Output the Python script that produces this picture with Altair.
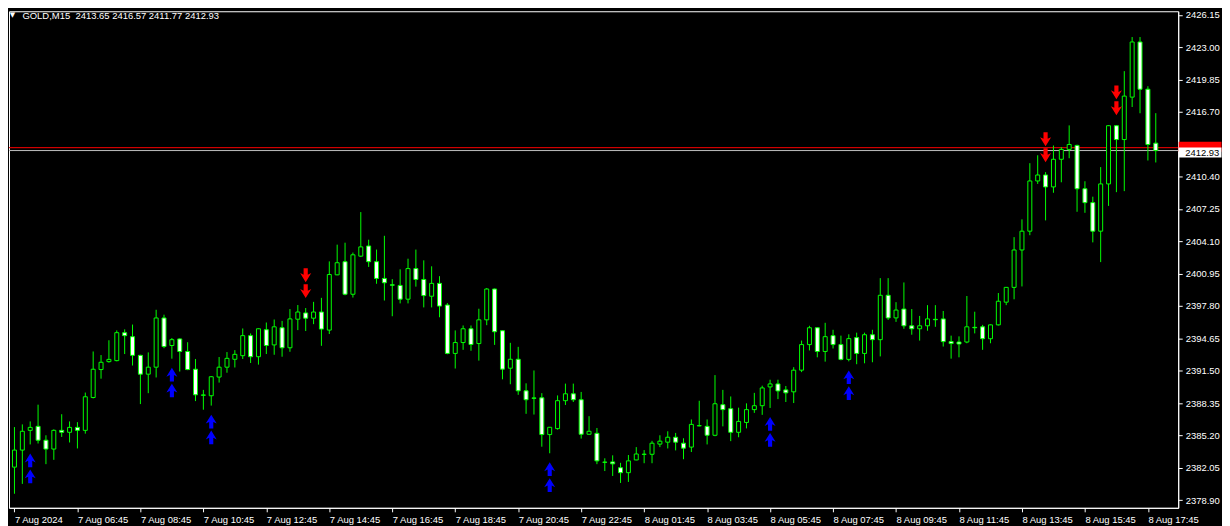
import json
import altair as alt
import pandas as pd

# ---------------- data (GOLD, M15) ----------------
opens = [2382.11, 2383.77, 2385.69, 2386.08, 2384.73, 2383.87, 2385.69, 2385.50, 2385.98, 2385.69,
         2388.89, 2391.61, 2392.38, 2392.48, 2395.20, 2394.81, 2392.99, 2391.16, 2391.84, 2396.63,
         2393.95, 2394.59, 2393.37, 2391.64, 2389.10, 2389.06, 2390.88, 2391.84, 2392.61, 2392.96,
         2394.91, 2392.86, 2395.49, 2394.01, 2395.68, 2393.73, 2396.51, 2397.12, 2396.61, 2397.21,
         2395.45, 2400.83, 2402.11, 2398.94, 2402.65, 2403.64, 2402.11, 2400.48, 2399.86, 2399.80,
         2398.46, 2401.44, 2400.38, 2398.75, 2400.00, 2397.89, 2393.18, 2394.24, 2395.58, 2394.14,
         2396.45, 2399.45, 2395.39, 2391.74, 2392.61, 2389.54, 2388.85, 2388.86, 2385.28, 2385.86,
         2388.58, 2389.25, 2388.67, 2385.31, 2385.40, 2382.60, 2382.62, 2382.05, 2381.57, 2382.81,
         2383.35, 2383.36, 2384.35, 2384.54, 2385.02, 2384.44, 2384.06, 2386.13, 2386.08, 2385.21,
         2388.19, 2387.80, 2385.50, 2386.46, 2387.71, 2388.09, 2389.92, 2390.21, 2389.63, 2389.44,
         2391.55, 2394.04, 2395.68, 2393.37, 2394.91, 2394.04, 2392.60, 2394.72, 2393.18, 2395.00,
         2394.52, 2398.84, 2396.64, 2397.50, 2395.87, 2395.58, 2395.87, 2396.50, 2396.54, 2394.33,
         2394.29, 2394.29, 2395.72, 2395.77, 2394.61, 2395.96, 2398.17, 2399.61, 2403.25, 2405.08,
         2409.97, 2410.55, 2409.39, 2412.08, 2413.04, 2413.43, 2409.21, 2407.86, 2405.08, 2409.68,
         2415.35, 2414.00, 2418.13, 2423.50, 2418.90, 2413.65]
highs = [2386.01, 2386.27, 2386.56, 2388.19, 2385.21, 2385.79, 2387.26, 2386.56, 2386.49, 2389.37,
         2393.37, 2393.02, 2394.46, 2395.42, 2395.52, 2395.99, 2393.05, 2393.28, 2397.43, 2396.95,
         2394.68, 2394.65, 2394.27, 2392.64, 2389.63, 2390.97, 2392.83, 2393.31, 2393.50, 2395.61,
         2395.13, 2395.62, 2396.19, 2396.48, 2396.35, 2397.50, 2397.89, 2397.60, 2398.20, 2398.59,
         2402.14, 2403.77, 2403.96, 2403.00, 2406.94, 2404.25, 2403.29, 2404.63, 2400.41, 2401.37,
         2402.40, 2403.29, 2402.24, 2401.66, 2400.70, 2398.08, 2395.42, 2395.90, 2395.90, 2397.53,
         2399.55, 2399.50, 2395.42, 2394.21, 2393.82, 2390.27, 2391.52, 2389.31, 2386.02, 2389.09,
         2390.24, 2390.24, 2389.43, 2387.07, 2385.92, 2382.97, 2383.26, 2382.53, 2383.29, 2384.06,
         2383.77, 2384.67, 2385.21, 2385.60, 2385.44, 2384.92, 2386.75, 2388.57, 2386.75, 2391.07,
         2389.63, 2388.99, 2387.90, 2388.32, 2389.34, 2390.04, 2390.62, 2390.62, 2390.01, 2391.84,
         2394.43, 2395.87, 2395.72, 2396.16, 2395.48, 2394.91, 2395.04, 2395.20, 2395.20, 2395.48,
         2400.51, 2400.51, 2398.17, 2400.09, 2397.50, 2396.83, 2397.88, 2397.88, 2397.31, 2394.91,
         2394.84, 2398.77, 2397.24, 2395.96, 2396.00, 2399.06, 2399.65, 2404.50, 2406.23, 2411.70,
         2412.47, 2410.83, 2413.42, 2413.27, 2415.38, 2413.50, 2409.94, 2408.44, 2411.32, 2415.40,
         2415.40, 2420.66, 2423.98, 2423.98, 2419.19, 2416.57]
lows = [2379.52, 2380.48, 2384.32, 2384.41, 2382.40, 2382.82, 2385.05, 2384.51, 2383.93, 2385.37,
        2388.80, 2390.72, 2392.28, 2392.41, 2393.12, 2392.00, 2388.25, 2389.31, 2390.84, 2393.69,
        2392.67, 2391.42, 2391.55, 2388.54, 2387.70, 2388.10, 2390.34, 2391.30, 2391.81, 2392.64,
        2392.25, 2392.09, 2393.12, 2393.05, 2392.86, 2393.34, 2395.45, 2395.36, 2396.03, 2393.92,
        2395.07, 2400.80, 2398.84, 2398.62, 2402.56, 2401.60, 2399.96, 2398.33, 2396.80, 2398.05,
        2398.05, 2399.68, 2397.66, 2397.66, 2396.70, 2393.10, 2391.71, 2393.53, 2393.44, 2392.48,
        2395.93, 2394.01, 2390.66, 2390.18, 2389.15, 2387.30, 2387.23, 2384.10, 2383.46, 2385.76,
        2388.16, 2388.45, 2384.89, 2385.28, 2382.40, 2381.73, 2381.25, 2380.57, 2380.67, 2382.78,
        2382.49, 2382.49, 2384.06, 2383.93, 2383.74, 2382.88, 2383.58, 2386.08, 2384.32, 2385.12,
        2386.08, 2384.64, 2385.02, 2385.88, 2387.39, 2387.20, 2387.87, 2388.73, 2388.45, 2388.35,
        2391.36, 2393.47, 2392.80, 2392.38, 2393.66, 2392.51, 2392.41, 2392.13, 2392.22, 2392.32,
        2392.89, 2396.44, 2396.25, 2395.58, 2395.00, 2394.43, 2395.39, 2395.77, 2393.85, 2392.67,
        2392.80, 2394.17, 2395.13, 2393.53, 2394.17, 2395.90, 2397.88, 2398.45, 2399.70, 2404.69,
        2409.68, 2406.13, 2408.82, 2409.84, 2412.18, 2406.97, 2406.87, 2403.99, 2402.07, 2407.54,
        2408.88, 2408.98, 2417.17, 2416.56, 2411.96, 2411.77]
closes = [2383.77, 2385.60, 2385.98, 2384.73, 2383.87, 2385.69, 2385.50, 2385.98, 2385.69, 2388.96,
          2391.64, 2392.32, 2392.60, 2395.20, 2394.91, 2392.99, 2391.16, 2391.84, 2396.63, 2393.85,
          2394.52, 2393.37, 2391.61, 2389.15, 2389.14, 2390.91, 2391.84, 2392.70, 2393.09, 2394.91,
          2392.86, 2395.58, 2393.95, 2395.77, 2393.73, 2396.54, 2397.21, 2396.61, 2397.21, 2395.55,
          2400.86, 2402.01, 2398.94, 2402.78, 2403.55, 2402.11, 2400.48, 2400.06, 2399.82, 2398.46,
          2401.44, 2400.38, 2398.81, 2400.00, 2397.79, 2393.18, 2394.24, 2395.58, 2394.05, 2396.45,
          2399.45, 2395.29, 2391.65, 2392.61, 2389.54, 2388.67, 2388.81, 2385.28, 2385.99, 2388.58,
          2389.25, 2388.67, 2385.31, 2385.60, 2382.72, 2382.58, 2382.43, 2381.57, 2382.72, 2383.39,
          2383.37, 2384.44, 2384.64, 2385.02, 2384.54, 2383.96, 2386.27, 2386.15, 2385.21, 2388.28,
          2387.71, 2385.50, 2386.56, 2387.71, 2388.09, 2389.82, 2390.21, 2389.53, 2389.34, 2391.55,
          2394.04, 2395.68, 2393.37, 2394.81, 2394.04, 2392.60, 2394.62, 2393.18, 2395.00, 2394.52,
          2398.84, 2396.64, 2397.40, 2395.87, 2395.58, 2395.87, 2396.54, 2396.46, 2394.33, 2394.14,
          2394.10, 2395.77, 2395.68, 2394.61, 2395.96, 2398.26, 2399.61, 2403.25, 2405.08, 2409.97,
          2410.55, 2409.39, 2412.08, 2413.04, 2413.52, 2409.21, 2407.86, 2405.08, 2409.68, 2415.35,
          2414.00, 2418.23, 2423.50, 2418.90, 2413.52, 2412.93]

x_tick_index = [0, 8, 16, 24, 32, 40, 48, 56, 64, 72, 80, 88, 96, 104, 112, 120, 128, 136, 144]
x_tick_labels = ["7 Aug 2024", "7 Aug 06:45", "7 Aug 08:45", "7 Aug 10:45", "7 Aug 12:45",
                 "7 Aug 14:45", "7 Aug 16:45", "7 Aug 18:45", "7 Aug 20:45", "7 Aug 22:45",
                 "8 Aug 01:45", "8 Aug 03:45", "8 Aug 05:45", "8 Aug 07:45", "8 Aug 09:45",
                 "8 Aug 11:45", "8 Aug 13:45", "8 Aug 15:45", "8 Aug 17:45"]
y_tick_values = [2426.15, 2423.00, 2419.85, 2416.70, 2413.55, 2410.40, 2407.25, 2404.10,
                 2400.95, 2397.80, 2394.65, 2391.50, 2388.35, 2385.20, 2382.05, 2378.90]

buy_signal_index = [2, 20, 25, 68, 96, 106]
sell_signal_index = [37, 131, 140]

symbol = "GOLD,M15"
bid_price = 2412.93
ask_price = 2413.21

# ---------------- chart ----------------
FONT = "Liberation Sans"
FS = 9.5
LIME = "#00FF00"
PW, PH = 1175, 499

df = pd.DataFrame({"i": list(range(len(opens))), "o": opens, "h": highs, "l": lows, "c": closes})

xs = alt.Scale(domain=[-0.0627, 147.22], nice=False, zero=False)
ys = alt.Scale(domain=[2378.15, 2426.49], nice=False, zero=False)

x_axis = alt.Axis(values=x_tick_index,
                  labelExpr=json.dumps(x_tick_labels) + "[round(datum.value / 8)]",
                  orient="bottom", grid=False, domain=True, domainColor="white",
                  ticks=True, tickColor="white", tickSize=4, labelColor="white",
                  labelFont=FONT, labelFontSize=FS, labelAlign="left", labelBaseline="top",
                  labelPadding=3, labelFlush=False, labelOverlap=False, title=None)
y_axis = alt.Axis(values=y_tick_values, format=".2f", orient="right", grid=False,
                  domain=True, domainColor="white", ticks=True, tickColor="white", tickSize=4,
                  labelColor="white", labelFont=FONT, labelFontSize=FS, labelAlign="left",
                  labelBaseline="middle", labelPadding=3, labelFlush=False, labelOverlap=False,
                  title=None)

X = alt.X("i:Q", scale=xs, axis=x_axis, title=None)


def Y(field):
    return alt.Y(field, type="quantitative", scale=ys, axis=y_axis, title=None)


base = alt.Chart(df)

price_lines = alt.Chart(pd.DataFrame({"p": [ask_price, bid_price], "kind": ["ask", "bid"]}))
ask_line = price_lines.transform_filter("datum.kind == 'ask'").mark_rule(
    color="#FF0000", strokeWidth=1).encode(y=Y("p"))
bid_line = price_lines.transform_filter("datum.kind == 'bid'").mark_rule(
    color="#C0C0C0", strokeWidth=1).encode(y=Y("p"))

wicks = base.mark_rule(color=LIME, strokeWidth=1, clip=True).encode(x=X, y=Y("l"), y2="h:Q")
bodies = base.mark_bar(width=4, stroke=LIME, strokeWidth=1, clip=True).encode(
    x=X, y=Y("o"), y2="c:Q",
    fill=alt.condition("datum.c >= datum.o", alt.value("black"), alt.value("white")))

UP = "M0,-1 L0.8,0.3 L0.3,0.06 L0.3,1 L-0.3,1 L-0.3,0.06 L-0.8,0.3 Z"
DOWN = "M0,1 L0.8,-0.3 L0.3,-0.06 L0.3,-1 L-0.3,-1 L-0.3,-0.06 L-0.8,-0.3 Z"

buys = base.transform_filter(alt.FieldOneOfPredicate(field="i", oneOf=buy_signal_index))
sells = base.transform_filter(alt.FieldOneOfPredicate(field="i", oneOf=sell_signal_index))

arrow_layers = []
for off in (16, 32):
    arrow_layers.append(buys.mark_point(shape=UP, size=190, filled=True, color="#0000FF",
                                        opacity=1, strokeWidth=0, yOffset=off)
                        .encode(x=X, y=Y("l")))
for off in (-33, -17):
    arrow_layers.append(sells.mark_point(shape=DOWN, size=195, filled=True, color="#FF0000",
                                         opacity=1, strokeWidth=0, yOffset=off)
                        .encode(x=X, y=Y("h")))

BOX10 = "M-1,-0.235 L1,-0.235 L1,0.235 L-1,0.235 Z"
ask_box = price_lines.transform_filter("datum.kind == 'ask'").mark_point(
    shape=BOX10, size=43 * 43, filled=True, color="#FF0000", opacity=1, strokeWidth=0,
    yOffset=-1).encode(x=alt.value(PW + 22), y=Y("p"))
bid_box = price_lines.transform_filter("datum.kind == 'bid'").mark_point(
    shape=BOX10, size=43 * 43, filled=True, color="white", opacity=1, strokeWidth=0,
    yOffset=2).encode(x=alt.value(PW + 22), y=Y("p"))
bid_text = price_lines.transform_filter("datum.kind == 'bid'").mark_text(
    color="black", font=FONT, fontSize=FS, align="left", baseline="middle", yOffset=2).encode(
    x=alt.value(PW + 7), y=Y("p"), text=alt.Text("p:Q", format=".2f"))

last = len(opens) - 1
header_str = "%s\u00a0\u00a0%.2f %.2f %.2f %.2f" % (symbol, opens[last], highs[last],
                                                    lows[last], closes[last])
header_df = pd.DataFrame({"t": [header_str], "tri": ["\u25bc"]})
header = alt.Chart(header_df).mark_text(
    color="white", font=FONT, fontSize=FS, align="left", baseline="middle").encode(
    x=alt.value(13.5), y=alt.value(4.5), text="t:N")
tri = alt.Chart(header_df).mark_text(
    color="white", font="DejaVu Sans", fontSize=7, align="center", baseline="middle").encode(
    x=alt.value(3.5), y=alt.value(4), text="tri:N")

chart = alt.layer(
    ask_line, bid_line, wicks, bodies, *arrow_layers, ask_box, bid_box, bid_text, header, tri
).properties(
    width=PW, height=PH,
    padding=0,
    background="black",
).configure_view(
    stroke="white", strokeWidth=1, fill="black"
)

chart.save("out.html", embed_options={"renderer": "svg", "actions": False})
